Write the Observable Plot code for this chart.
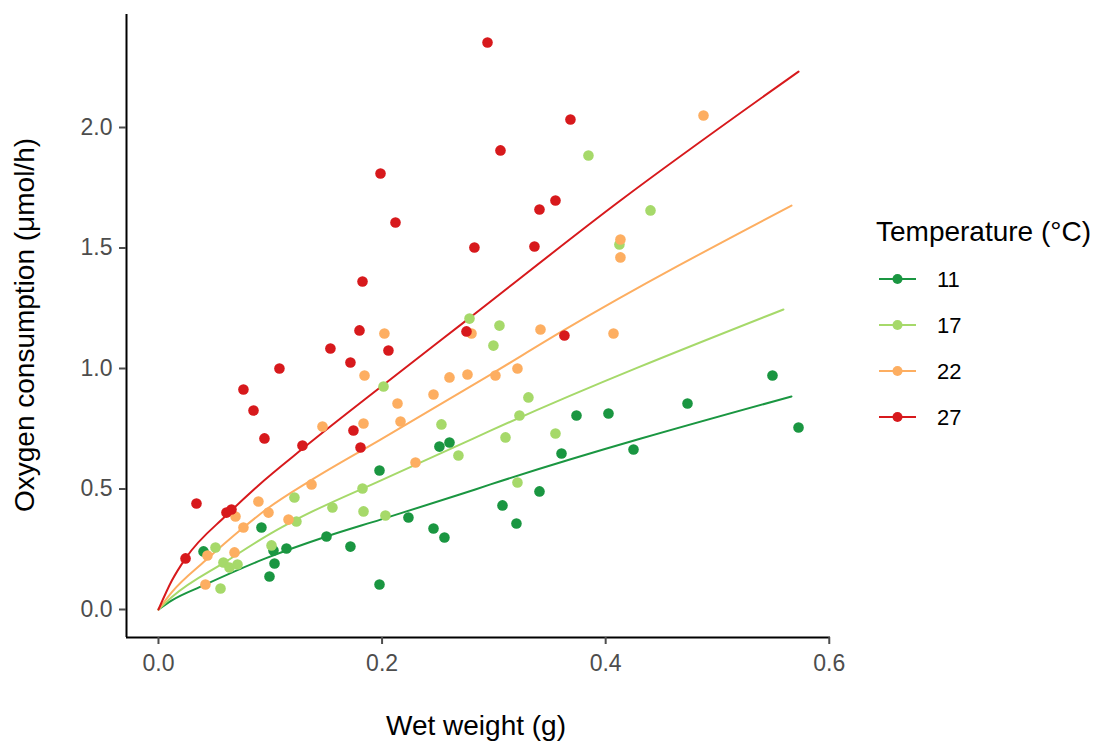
<!DOCTYPE html>
<html>
<head>
<meta charset="utf-8">
<script src="https://cdn.jsdelivr.net/npm/d3@7"></script>
<script src="https://cdn.jsdelivr.net/npm/@observablehq/plot@0.6"></script>
<style>
  body { margin: 0; background: #fff; }
  #chart svg { display: block; }
</style>
</head>
<body>
<div id="chart"></div>
<script>
// ---- categories / colours ----
const temperatures = ["11", "17", "22", "27"];
const colors = ["#1a9641", "#a6d96a", "#fdae61", "#d7191c"];

// ---- observed points (wet weight g, oxygen consumption µmol/h) ----
const weight11 = [0.0403,0.0921,0.0993,0.1038,0.1029,0.1145,0.1503,0.1717,0.1977,0.1977,0.2236,0.2460,0.2558,0.2513,0.2603,0.3077,0.3202,0.3408,0.3605,0.3739,0.4025,0.4249,0.4732,0.5492,0.5725];
const oxygen11 = [0.241,0.340,0.137,0.191,0.245,0.253,0.303,0.261,0.104,0.577,0.382,0.336,0.299,0.676,0.693,0.432,0.357,0.490,0.647,0.805,0.813,0.664,0.855,0.971,0.755];

const weight17 = [0.0510,0.0555,0.0581,0.0635,0.0707,0.1011,0.1216,0.1234,0.1556,0.1834,0.1825,0.2030,0.2013,0.2531,0.2683,0.2782,0.2996,0.3050,0.3104,0.3211,0.3229,0.3309,0.3551,0.3846,0.4123,0.4401];
const oxygen17 = [0.257,0.087,0.195,0.174,0.187,0.266,0.465,0.365,0.423,0.407,0.502,0.390,0.925,0.768,0.639,1.207,1.095,1.178,0.714,0.527,0.805,0.880,0.730,1.884,1.515,1.656];

const weight22 = [0.0420,0.0438,0.0689,0.0680,0.0760,0.0894,0.0984,0.1163,0.1369,0.1467,0.1843,0.1834,0.2021,0.2138,0.2165,0.2299,0.2460,0.2603,0.2764,0.2800,0.3014,0.3211,0.3417,0.4070,0.4132,0.4132,0.4875];
const oxygen22 = [0.104,0.224,0.386,0.237,0.340,0.448,0.402,0.373,0.519,0.759,0.971,0.772,1.145,0.855,0.780,0.610,0.892,0.963,0.975,1.145,0.971,1.000,1.162,1.145,1.535,1.461,2.050];

const weight27 = [0.0242,0.0340,0.0608,0.0653,0.0760,0.0850,0.0948,0.1082,0.1288,0.1538,0.1717,0.1744,0.1798,0.1825,0.1807,0.1986,0.2057,0.2120,0.2755,0.2826,0.2943,0.3059,0.3363,0.3408,0.3551,0.3631,0.3685];
const oxygen27 = [0.212,0.440,0.402,0.415,0.913,0.826,0.710,1.000,0.680,1.083,1.025,0.743,1.158,1.361,0.672,1.809,1.075,1.606,1.154,1.502,2.353,1.905,1.506,1.660,1.697,1.137,2.033];

// ---- fitted curves ----
const fitWeight11 = [0,0.0120,0.0403,0.0957,0.1503,0.1986,0.2701,0.2970,0.5662];
const fitOxygen11 = [0,0.038,0.100,0.212,0.303,0.373,0.478,0.519,0.884];
const fitWeight17 = [0,0.0120,0.0617,0.1002,0.1252,0.1986,0.2701,0.2970,0.5590];
const fitOxygen17 = [0,0.052,0.203,0.315,0.378,0.535,0.685,0.742,1.245];
const fitWeight22 = [0,0.0120,0.0420,0.0760,0.0975,0.1377,0.1986,0.2970,0.3623,0.5662];
const fitOxygen22 = [0,0.072,0.203,0.340,0.419,0.540,0.705,0.975,1.158,1.676];
const fitWeight27 = [0,0.0120,0.0242,0.0617,0.0894,0.1297,0.2048,0.2783,0.4132,0.5725];
const fitOxygen27 = [0,0.120,0.212,0.395,0.515,0.670,0.945,1.210,1.697,2.232];

// ---- axes ----
const xTicks = [0, 0.2, 0.4, 0.6];
const yTicks = [0, 0.5, 1.0, 1.5, 2.0];
const xDomain = [-0.0286, 0.6011];
const yDomain = [-0.1162, 2.4689];
const xTitle = "Wet weight (g)";
const yTitle = "Oxygen consumption (μmol/h)";
const legendTitle = "Temperature (°C)";

// ---- build tables ----
const weights = [weight11, weight17, weight22, weight27];
const oxygens = [oxygen11, oxygen17, oxygen22, oxygen27];
const fitWeights = [fitWeight11, fitWeight17, fitWeight22, fitWeight27];
const fitOxygens = [fitOxygen11, fitOxygen17, fitOxygen22, fitOxygen27];

const points = temperatures.flatMap((t, i) => weights[i].map((w, j) => ({temp: t, w, o: oxygens[i][j]})));
const fits = temperatures.flatMap((t, i) => fitWeights[i].map((w, j) => ({temp: t, w, o: fitOxygens[i][j]})));

const FONT = "'Liberation Sans', Arial, Helvetica, sans-serif";

const chart = Plot.plot({
  width: 1108,
  height: 744,
  marginLeft: 126,
  marginRight: 278,
  marginTop: 14,
  marginBottom: 107,
  style: {fontFamily: FONT, background: "#fff", overflow: "visible"},
  x: {domain: xDomain},
  y: {domain: yDomain},
  color: {domain: temperatures, range: colors},
  marks: [
    Plot.line(fits, {x: "w", y: "o", stroke: "temp", z: "temp", strokeWidth: 2, curve: "monotone-x"}),
    Plot.dot(points, {x: "w", y: "o", fill: "temp", r: 5.3}),
    Plot.ruleX([xDomain[0]], {stroke: "#000", strokeWidth: 2}),
    Plot.ruleY([yDomain[0]], {stroke: "#000", strokeWidth: 2}),
    Plot.axisX(xTicks, {tickSize: 7, tickPadding: 10, fontSize: 23, color: "#4d4d4d", strokeWidth: 2, tickFormat: d => d.toFixed(1), label: null}),
    Plot.axisY(yTicks, {tickSize: 7, tickPadding: 7, fontSize: 23, color: "#4d4d4d", strokeWidth: 2, tickFormat: d => d.toFixed(1), label: null})
  ]
});

document.getElementById("chart").appendChild(chart);

const svg = d3.select(chart);

// axis titles
svg.append("text")
  .attr("x", 476).attr("y", 735)
  .attr("text-anchor", "middle")
  .attr("font-family", FONT).attr("font-size", 28).attr("fill", "#000")
  .text(xTitle);

svg.append("text")
  .attr("transform", "translate(34,325) rotate(-90)")
  .attr("text-anchor", "middle")
  .attr("font-family", FONT).attr("font-size", 28).attr("fill", "#000")
  .text(yTitle);

// legend
const lg = svg.append("g").attr("font-family", FONT).attr("text-anchor", "start");
lg.append("text").attr("x", 876).attr("y", 241).attr("font-size", 28).attr("fill", "#000").text(legendTitle);
temperatures.forEach((t, i) => {
  const cy = 279 + i * 46;
  lg.append("line").attr("x1", 879).attr("x2", 916).attr("y1", cy).attr("y2", cy)
    .attr("stroke", colors[i]).attr("stroke-width", 2);
  lg.append("circle").attr("cx", 897.5).attr("cy", cy).attr("r", 5).attr("fill", colors[i]);
  lg.append("text").attr("x", 937).attr("y", cy + 8).attr("font-size", 22).attr("fill", "#000").text(t);
});
</script>
</body>
</html>
